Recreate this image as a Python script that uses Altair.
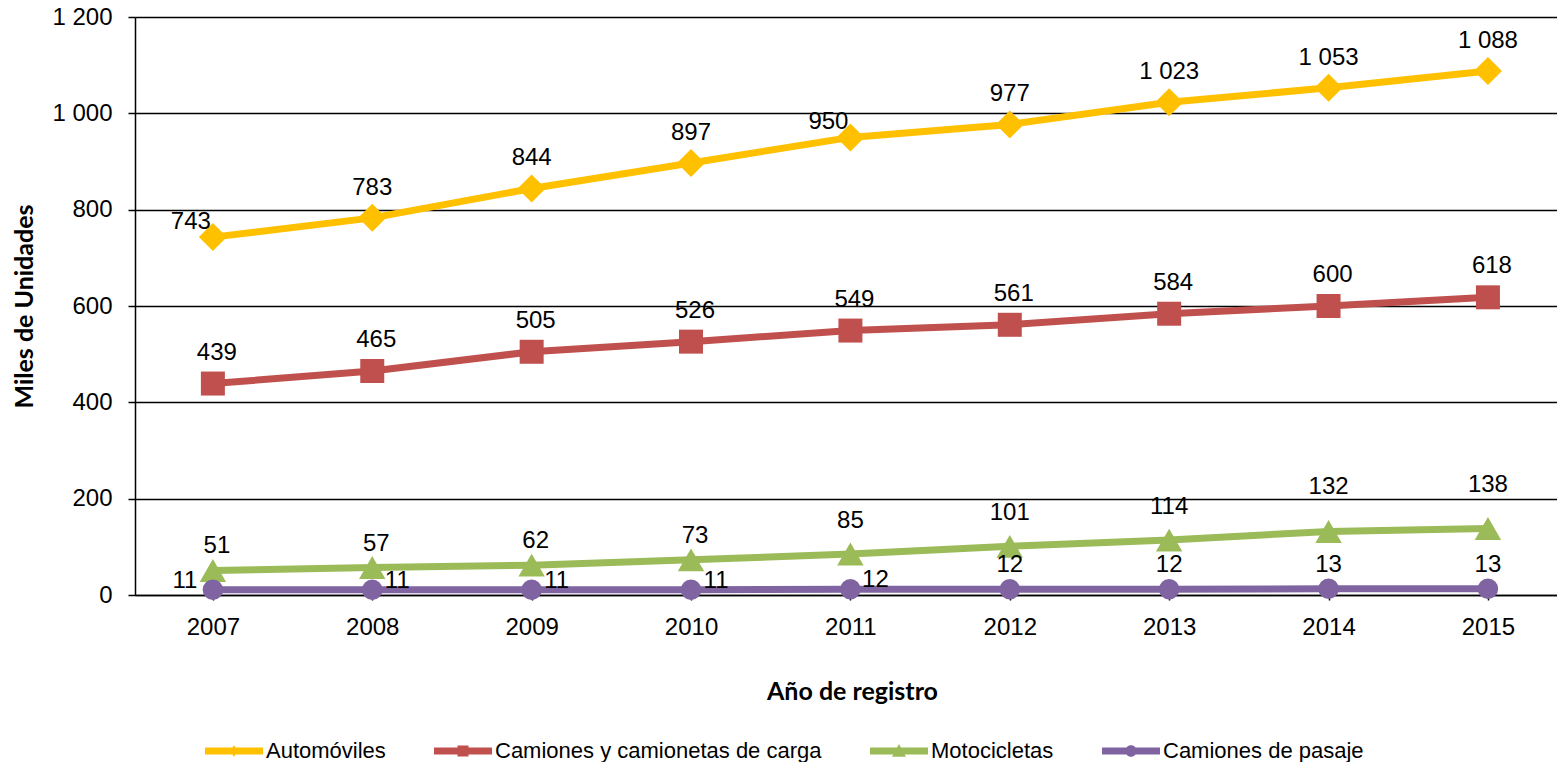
import altair as alt
import pandas as pd

years = ["2007", "2008", "2009", "2010", "2011", "2012", "2013", "2014", "2015"]
automoviles = [743, 783, 844, 897, 950, 977, 1023, 1053, 1088]
carga = [439, 465, 505, 526, 549, 561, 584, 600, 618]
motos = [51, 57, 62, 73, 85, 101, 114, 132, 138]
pasaje = [11, 11, 11, 11, 12, 12, 12, 13, 13]

series = ["Automóviles", "Camiones y camionetas de carga", "Motocicletas", "Camiones de pasaje"]
values = [automoviles, carga, motos, pasaje]
colors = ["#FFC000", "#C0504D", "#9BBB59", "#8064A2"]
shapes = ["diamond", "square", "triangle-up", "circle"]
sizes = [784, 576, 700, 420]

bar = "M-1,-0.12 L1,-0.12 L1,0.12 L-1,0.12 Z "
legend_paths = [
    bar + "M0,-0.2 L0.14,0 L0,0.2 L-0.14,0 Z",
    bar + "M-0.19,-0.19 L0.19,-0.19 L0.19,0.19 L-0.19,0.19 Z",
    bar + "M0,-0.24 L0.24,0.2 L-0.24,0.2 Z",
    bar + "M0.2,0 A0.2,0.2 0 1,1 -0.2,0 A0.2,0.2 0 1,1 0.2,0 Z",
]

rows = []
for s, vals in zip(series, values):
    for y, v in zip(years, vals):
        rows.append({"series": s, "year": y, "value": v})
df = pd.DataFrame(rows)

FONT = "Liberation Sans"
TITLE_FONT = "Lato"

x_enc = alt.X(
    "year:O",
    scale=alt.Scale(type="point", padding=0.461, align=0.53),
    axis=alt.Axis(
        title="Año de registro", labelAngle=0, labelFont=FONT, labelFontSize=24,
        labelColor="black", labelPadding=15, tickSize=5, tickColor="black",
        tickWidth=1.5, domainColor="black", domainWidth=1.5, grid=False,
        titleFont=TITLE_FONT, titleFontSize=25, titleFontWeight="bold",
        titleColor="black", titleX=717, titleY=96, titleBaseline="middle",
    ),
)
y_enc = alt.Y(
    "value:Q",
    scale=alt.Scale(domain=[0, 1200], nice=False),
    axis=alt.Axis(
        title="Miles de Unidades", values=[0, 200, 400, 600, 800, 1000, 1200],
        labelExpr="replace(format(datum.value, ','), ',', ' ')",
        labelFont=FONT, labelFontSize=24, labelColor="black", labelPadding=16,
        tickSize=7, tickColor="black", tickWidth=1.5, domainColor="black",
        domainWidth=1.5, gridColor="black", gridWidth=1.3, gridOpacity=1,
        titleFont=TITLE_FONT, titleFontSize=25, titleFontWeight="bold",
        titleColor="black", titleX=-111, titleBaseline="middle",
    ),
)

base = alt.Chart(df).encode(x=x_enc, y=y_enc)

layers = []
for s, c, sh, sz in zip(series, colors, shapes, sizes):
    sub = base.transform_filter(alt.datum.series == s)
    layers.append(sub.mark_line(color=c, strokeWidth=7))
    layers.append(sub.mark_point(shape=sh, size=sz, filled=True, color=c, opacity=1))

legend_layer = base.mark_point(filled=True, opacity=0).encode(
    color=alt.Color("series:N", scale=alt.Scale(domain=series, range=colors),
                    legend=alt.Legend(title=None)),
    shape=alt.Shape("series:N", scale=alt.Scale(domain=series, range=legend_paths),
                    legend=alt.Legend(title=None)),
)
layers.append(legend_layer)

labels = base.transform_calculate(
    label="replace(format(datum.value, ','), ',', ' ')"
)

def txt(filt, dx, dy):
    return labels.transform_filter(filt).mark_text(
        font=FONT, fontSize=24, color="black", align="center",
        baseline="middle", dx=dx, dy=dy,
    ).encode(text="label:N")

A, C, M, P = series
yr = alt.datum.year
layers += [
    txt((alt.datum.series == A) & ((yr == "2007") | (yr == "2011")), -22, -15),
    txt((alt.datum.series == A) & (yr != "2007") & (yr != "2011"), 0, -30),
    txt(alt.datum.series == C, 4, -31),
    txt((alt.datum.series == M) & (yr <= "2010"), 4, -24),
    txt((alt.datum.series == M) & (yr > "2010") & (yr <= "2013"), 0, -33),
    txt((alt.datum.series == M) & (yr > "2013"), 0, -44),
    txt((alt.datum.series == P) & (yr == "2007"), -28, -9),
    txt((alt.datum.series == P) & (yr > "2007") & (yr <= "2011"), 25, -9),
    txt((alt.datum.series == P) & (yr > "2011"), 0, -24),
]

chart = alt.layer(*layers).properties(
    width=1422, height=578,
    autosize=alt.AutoSizeParams(type="none"),
    padding={"left": 127, "top": 9, "right": 0, "bottom": 167},
).configure_view(stroke=None).configure_legend(
    orient="none", legendX=70, legendY=705, direction="horizontal",
    symbolSize=3364, symbolStrokeWidth=0, labelFont=FONT, labelFontSize=22,
    labelColor="black", labelOffset=3, columnPadding=48, symbolOpacity=1,
    labelLimit=0,
)

chart.save("out.html", embed_options={"renderer": "svg", "actions": False})
